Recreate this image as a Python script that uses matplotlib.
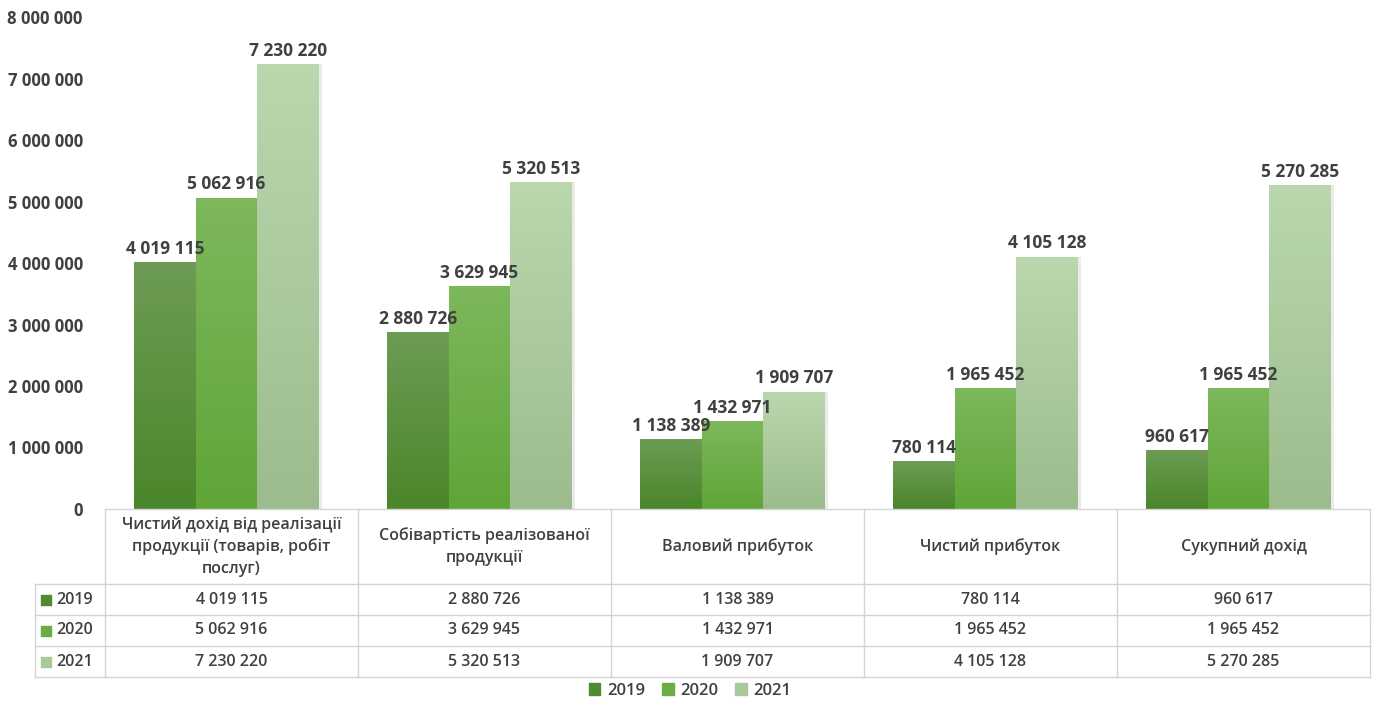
import numpy as np
import matplotlib.pyplot as plt
from matplotlib.colors import LinearSegmentedColormap

plt.rcParams['font.family'] = ['Open Sans', 'DejaVu Sans']

categories = ["Чистий дохід від реалізації\nпродукції (товарів, робіт\nпослуг)",
              "Собівартість реалізованої\nпродукції",
              "Валовий прибуток",
              "Чистий прибуток",
              "Сукупний дохід"]
years = ["2019", "2020", "2021"]
v2019 = [4019115, 2880726, 1138389, 780114, 960617]
v2020 = [5062916, 3629945, 1432971, 1965452, 1965452]
v2021 = [7230220, 5320513, 1909707, 4105128, 5270285]
series = [v2019, v2020, v2021]

# top colour, bottom colour, legend colour
cols = [("#6d9c55", "#4a862a", "#4f8b31"),
        ("#7db85c", "#5fa537", "#69ad43"),
        ("#bad7ad", "#9cbc8d", "#a9c99b")]
txt = "#404040"
grid = "#d4d4d4"

W, H = 1377, 704
fig = plt.figure(figsize=(W / 100, H / 100), dpi=100)

# pixel layout
x0, x1 = 105, 1370
ytop, ybase = 17, 509
rows_y = [584, 615, 646, 677]
lab_x0 = 35

ax = fig.add_axes([x0 / W, 1 - ybase / H, (x1 - x0) / W, (ybase - ytop) / H])
n = len(categories)
ax.set_xlim(0, n)
ax.set_ylim(0, 8000000)
for s in ax.spines.values():
    s.set_visible(False)
ax.set_xticks([])
ticks = np.arange(0, 8000001, 1000000)
ax.set_yticks(ticks)
ax.set_yticklabels(["{:,}".format(t).replace(",", " ") for t in ticks],
                   fontsize=12, fontweight='bold', color=txt)
ax.tick_params(axis='y', length=0, pad=16)

bw = 0.243
xc = np.arange(n) + 0.48
grad = np.linspace(0, 1, 256).reshape(-1, 1)
for k, vals in enumerate(series):
    pos = xc + (k - 1) * bw
    # shadow
    ax.bar(pos + 0.012, vals, bw, color="#000000", alpha=0.08, zorder=1)
    bars = ax.bar(pos, vals, bw, color="none", zorder=2)
    cmap = LinearSegmentedColormap.from_list("g%d" % k, [cols[k][1], cols[k][0]])
    for r, v in zip(bars, vals):
        bx, by, bwid, bh = r.get_x(), r.get_y(), r.get_width(), r.get_height()
        im = ax.imshow(grad, cmap=cmap, aspect='auto', origin='lower',
                       extent=[bx, bx + bwid, by, by + bh], zorder=2)
        im.set_clip_path(r)
        ax.annotate("{:,}".format(v).replace(",", " "), (bx + bwid / 2, v),
                    xytext=(0, 3), textcoords='offset points', ha='center', va='bottom',
                    fontsize=12.5, fontweight='bold', color=txt, zorder=3)
ax.set_xlim(0, n)

# data table
tax = fig.add_axes([0, 0, 1, 1])
tax.set_xlim(0, W)
tax.set_ylim(H, 0)
tax.axis('off')
cw = (x1 - x0) / n
lw = 1.0
tax.plot([x0, x1], [ybase, ybase], color=grid, lw=lw)
for y in rows_y:
    tax.plot([lab_x0, x1], [y, y], color=grid, lw=lw)
for i in range(n + 1):
    tax.plot([x0 + i * cw] * 2, [ybase, rows_y[-1]], color=grid, lw=lw)
tax.plot([lab_x0, lab_x0], [rows_y[0], rows_y[-1]], color=grid, lw=lw)

for i, c in enumerate(categories):
    tax.text(x0 + (i + 0.5) * cw, (ybase + rows_y[0]) / 2, c, ha='center', va='center',
             fontsize=11.5, fontweight='semibold', color=txt, linespacing=1.45)
for k, vals in enumerate(series):
    yc = (rows_y[k] + rows_y[k + 1]) / 2
    tax.scatter([46], [yc], marker='s', s=45, color=cols[k][2])
    tax.text(56, yc, years[k], ha='left', va='center', fontsize=11.5,
             fontweight='semibold', color=txt)
    for i, v in enumerate(vals):
        tax.text(x0 + (i + 0.5) * cw, yc, "{:,}".format(v).replace(",", " "),
                 ha='center', va='center', fontsize=11.5, fontweight='semibold', color=txt)

# legend
handles = [plt.Rectangle((0, 0), 1, 1, color=cols[k][2]) for k in range(3)]
fig.legend(handles, years, loc='center', bbox_to_anchor=(690 / W, 1 - 691 / H), ncol=3,
           frameon=False, handlelength=0.7, handleheight=0.7,
           handletextpad=0.4, columnspacing=1.0, labelcolor=txt,
           prop={'weight': 'semibold', 'size': 12})

fig.savefig("out.png", dpi=100, facecolor='white')
